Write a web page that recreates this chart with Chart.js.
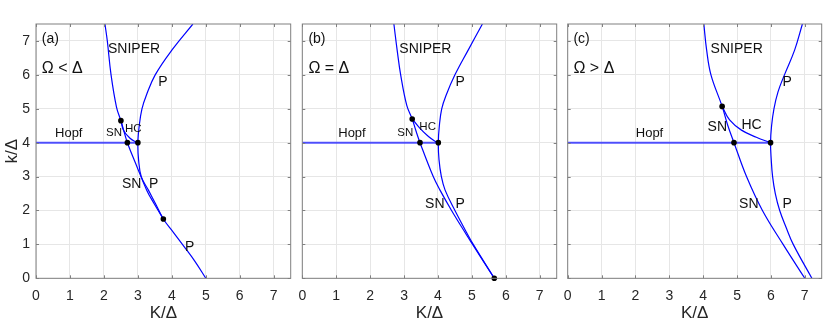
<!DOCTYPE html>
<html>
<head>
<meta charset="utf-8">
<script src="https://cdn.jsdelivr.net/npm/chart.js@4.4.0/dist/chart.umd.min.js"></script>
<style>
  html, body { margin: 0; padding: 0; background: #fff; }
  #wrap { position: relative; width: 830px; height: 325px; }
  canvas { position: absolute; left: 0; top: 0; }
</style>
</head>
<body>
<div id="wrap">
  <canvas id="pa" width="830" height="325"></canvas>
  <canvas id="pb" width="830" height="325"></canvas>
  <canvas id="pc" width="830" height="325"></canvas>
</div>
<script>
// ticks (same on both axes)
const xTicks = [0, 1, 2, 3, 4, 5, 6, 7];
const yTicks = [0, 1, 2, 3, 4, 5, 6, 7];

// panel (a)  Omega < Delta
const snA    = [[2.03,7.5],[2.1,7.0],[2.21,6.0],[2.37,5.05],[2.5,4.65],[2.6,4.3],[2.69,4.0],[2.97,3.3],[3.26,2.6],[3.48,2.2],[3.75,1.75]];
const pA     = [[4.62,7.5],[4.0,6.73],[3.51,6.0],[3.25,5.4],[3.12,5.0],[3.04,4.5],[3.0,4.0],[3.02,3.5],[3.1,3.0],[3.31,2.6],[3.52,2.2],[3.75,1.75],[4.05,1.35],[4.35,0.95],[4.68,0.5],[5.0,0]];
const hcA    = [[2.5,4.65],[2.58,4.36],[2.77,4.13],[2.92,4.03],[3.0,4.0]];
const hopfA  = [[0,4],[3.0,4]];
const dotsA  = [[2.5,4.65],[2.69,4.0],[3.0,4.0],[3.75,1.75]];

// panel (b)  Omega = Delta
const snB    = [[2.70,7.5],[2.8,6.7],[2.9,6.0],[3.08,5.1],[3.24,4.7],[3.35,4.35],[3.47,4.0],[3.86,3.0],[4.06,2.6],[4.4,2.0],[4.83,1.3],[5.02,1.0],[5.66,0]];
const pB     = [[5.31,7.5],[4.89,6.73],[4.5,6.0],[4.24,5.4],[4.11,5.0],[4.04,4.5],[4.01,4.0],[4.03,3.5],[4.1,3.0],[4.21,2.6],[4.5,2.0],[4.87,1.3],[5.04,1.0],[5.66,0]];
const hcB    = [[3.24,4.7],[3.47,4.42],[3.72,4.18],[3.9,4.05],[4.01,4.0]];
const hopfB  = [[0,4],[4.01,4]];
const dotsB  = [[3.24,4.7],[3.47,4.0],[4.01,4.0],[5.66,0]];

// panel (c)  Omega > Delta
const snC    = [[4.02,7.5],[4.1,6.75],[4.23,6.0],[4.56,5.07],[4.73,4.5],[4.91,4.0],[5.28,3.0],[5.75,2.0],[6.36,1.0],[7.0,0]];
const pC     = [[6.93,7.5],[6.7,6.73],[6.4,6.0],[6.21,5.5],[6.09,5.0],[6.02,4.5],[5.99,4.0],[6.01,3.5],[6.05,3.0],[6.13,2.5],[6.26,2.0],[6.45,1.5],[6.66,1.0],[7.21,0]];
const hcC    = [[4.56,5.07],[4.78,4.67],[5.13,4.37],[5.57,4.16],[5.99,4.0]];
const hopfC  = [[0,4],[5.99,4]];
const dotsC  = [[4.56,5.07],[4.91,4.0],[5.99,4.0]];

// text labels in data coordinates: [text, x (left edge), y (middle), kind]
const labelsA = [['(a)',0.17,7.06,'tag'],['Ω < Δ',0.17,6.19,'cond'],['SNIPER',2.12,6.75,'name'],['P',3.6,5.79,'name'],
  ['HC',2.62,4.4,'small'],['SN',2.06,4.3,'small'],['Hopf',0.56,4.27,'hopf'],['SN',2.53,2.78,'name'],['P',3.33,2.78,'name'],['P',4.39,0.93,'name']];
const labelsB = [['(b)',0.18,7.06,'tag'],['Ω = Δ',0.18,6.19,'cond'],['SNIPER',2.86,6.75,'name'],['P',4.52,5.79,'name'],
  ['HC',3.45,4.47,'small'],['SN',2.8,4.3,'small'],['Hopf',1.06,4.27,'hopf'],['SN',3.62,2.18,'name'],['P',4.52,2.18,'name']];
const labelsC = [['(c)',0.17,7.06,'tag'],['Ω > Δ',0.17,6.19,'cond'],['SNIPER',4.22,6.75,'name'],['P',6.34,5.79,'name'],
  ['HC',5.13,4.51,'name'],['SN',4.13,4.45,'name'],['Hopf',2.01,4.27,'hopf'],['SN',5.06,2.18,'name'],['P',6.34,2.18,'name']];

const FONT = '"Liberation Sans", Arial, Helvetica, sans-serif';
const fontSize = { tag: 14, cond: 16, name: 14, small: 11.5, hopf: 13 };
const BLUE = '#0000ff';

function toXY(arr) { return arr.map(p => ({ x: p[0], y: p[1] })); }

function curve(arr) {
  return { data: toXY(arr), showLine: true, borderColor: BLUE, borderWidth: 1.2,
    pointRadius: 0, tension: 0.4, fill: false, order: 1 };
}

// frame, inward ticks and text labels
function overlay(labels) {
  return {
    id: 'overlay',
    afterDatasetsDraw(chart) {
      const { ctx, chartArea: a, scales } = chart;
      ctx.save();
      ctx.strokeStyle = '#808080';
      ctx.lineWidth = 1;
      ctx.beginPath();
      xTicks.forEach(v => {
        const px = Math.round(scales.x.getPixelForValue(v)) + 0.5;
        ctx.moveTo(px, a.bottom); ctx.lineTo(px, a.bottom - 3);
        ctx.moveTo(px, a.top); ctx.lineTo(px, a.top + 3);
      });
      yTicks.forEach(v => {
        const py = Math.round(scales.y.getPixelForValue(v)) + 0.5;
        ctx.moveTo(a.left, py); ctx.lineTo(a.left + 3, py);
        ctx.moveTo(a.right, py); ctx.lineTo(a.right - 3, py);
      });
      ctx.stroke();
      ctx.strokeRect(a.left, a.top, a.right - a.left, a.bottom - a.top);

      ctx.fillStyle = '#111';
      ctx.textAlign = 'left';
      ctx.textBaseline = 'middle';
      labels.forEach(l => {
        ctx.font = fontSize[l[3]] + 'px ' + FONT;
        ctx.fillText(l[0], scales.x.getPixelForValue(l[1]), scales.y.getPixelForValue(l[2]));
      });
      ctx.restore();
    }
  };
}

function makePanel(id, sn, p, hc, hopf, dots, labels, left, right, showY) {
  new Chart(document.getElementById(id), {
    type: 'scatter',
    data: {
      datasets: [
        { data: toXY(dots), pointRadius: 2.8, pointBackgroundColor: '#000', pointBorderWidth: 0, clip: false, order: 0 },
        curve(sn),
        curve(p),
        curve(hc),
        { data: toXY(hopf), showLine: true, borderColor: 'rgba(40,40,255,0.8)', borderWidth: 2, pointRadius: 0, order: 2 }
      ]
    },
    options: {
      responsive: false,
      animation: false,
      devicePixelRatio: 1,
      layout: { padding: { left: left, right: 830 - right, top: 24, bottom: 0 } },
      plugins: { legend: { display: false }, tooltip: { enabled: false } },
      scales: {
        x: {
          type: 'linear', min: 0, max: 7.5,
          afterBuildTicks: s => { s.ticks = xTicks.map(v => ({ value: v })); },
          afterFit: s => { s.height = 46.7; },
          grid: { color: '#e6e6e6', drawTicks: false },
          border: { display: false },
          ticks: { color: '#262626', font: { family: FONT, size: 14 }, padding: 9, maxRotation: 0, autoSkip: false },
          title: { display: true, text: 'K/Δ', color: '#262626', font: { family: FONT, size: 17 }, padding: { top: 0, bottom: 1 } }
        },
        y: {
          type: 'linear', min: 0, max: 7.5,
          afterBuildTicks: s => { s.ticks = yTicks.map(v => ({ value: v })); },
          afterFit: s => { s.width = showY ? 36 : 0; },
          grid: { color: '#e6e6e6', drawTicks: false },
          border: { display: false },
          ticks: { display: showY, color: '#262626', font: { family: FONT, size: 14 }, padding: 6 },
          title: { display: showY, text: 'k/Δ', color: '#262626', font: { family: FONT, size: 17 }, padding: { top: 2, bottom: 0 } }
        }
      }
    },
    plugins: [overlay(labels)]
  });
}

makePanel('pa', snA, pA, hcA, hopfA, dotsA, labelsA, 0, 290.7, true);
makePanel('pb', snB, pB, hcB, hopfB, dotsB, labelsB, 302.3, 556.7, false);
makePanel('pc', snC, pC, hcC, hopfC, dotsC, labelsC, 567.7, 821.7, false);
</script>
</body>
</html>
